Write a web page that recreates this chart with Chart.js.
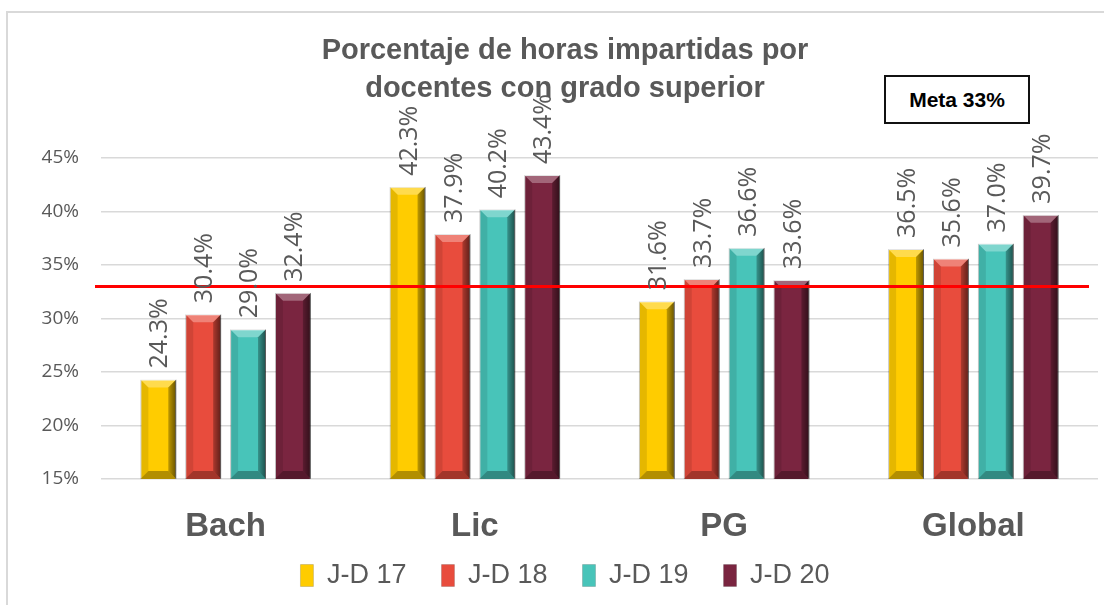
<!DOCTYPE html>
<html lang="es">
<head>
  <meta charset="UTF-8">
  <title>Porcentaje de horas impartidas por docentes con grado superior</title>
  <script src="https://cdn.jsdelivr.net/npm/chart.js@4.4.0"></script>
  <style>
    html, body {
      margin: 0;
      padding: 0;
      background: #fff;
      overflow: hidden;
      width: 1104px;
      height: 605px;
    }
    .frame {
      position: absolute;
      left: 6px;
      top: 11px;
      width: 1110px;
      height: 594px;
      border-left: 2px solid #d9d9d9;
      border-top: 2px solid #d9d9d9;
    }
    .frame canvas {
      display: block;
    }
    .meta {
      position: absolute;
      left: 884px;
      top: 75px;
      width: 142px;
      height: 45px;
      border: 2px solid #111;
      background: #fff;
      font-family: 'Liberation Sans', sans-serif;
      font-weight: bold;
      font-size: 21px;
      line-height: 45px;
      text-align: center;
      color: #000;
    }
  </style>
</head>
<body>
  <div class="frame">
    <canvas id="chart" width="1110" height="592"></canvas>
  </div>
  <div class="meta">Meta 33%</div>

  <script>
    const categories = ['Bach', 'Lic', 'PG', 'Global'];
    const seriesNames = ['J-D 17', 'J-D 18', 'J-D 19', 'J-D 20'];
    const jd17 = [24.3, 42.3, 31.6, 36.5];
    const jd18 = [30.4, 37.9, 33.7, 35.6];
    const jd19 = [29.0, 40.2, 36.6, 37.0];
    const jd20 = [32.4, 43.4, 33.6, 39.7];
    const goal = 33;
    const colors = ['#FFCC00', '#E84C3D', '#48C4B9', '#7A2540'];

    const textFont = "'Liberation Sans', sans-serif";
    const labelFont = "'Open Sans', sans-serif";

    // bevel look on every bar, drawn over the bar the library placed
    const bevel = {
      id: 'bevel',
      afterDatasetsDraw(chart) {
        const ctx = chart.ctx, area = chart.chartArea;
        chart.data.datasets.forEach((ds, di) => {
          chart.getDatasetMeta(di).data.forEach(bar => {
            const l = bar.x - bar.width / 2, r = bar.x + bar.width / 2;
            const t = bar.y, b = Math.min(bar.base, area.bottom), e = 8;
            ctx.save();
            ctx.fillStyle = 'rgba(255,255,255,0.3)';
            ctx.beginPath();
            ctx.moveTo(l, t); ctx.lineTo(r, t); ctx.lineTo(r - e, t + e); ctx.lineTo(l + e, t + e);
            ctx.closePath(); ctx.fill();
            ctx.fillStyle = 'rgba(0,0,0,0.1)';
            ctx.beginPath();
            ctx.moveTo(l, t); ctx.lineTo(l + e, t + e); ctx.lineTo(l + e, b - e); ctx.lineTo(l, b);
            ctx.closePath(); ctx.fill();
            const g = ctx.createLinearGradient(r - e, 0, r, 0);
            g.addColorStop(0, 'rgba(0,0,0,0.25)');
            g.addColorStop(1, 'rgba(0,0,0,0.6)');
            ctx.fillStyle = g;
            ctx.beginPath();
            ctx.moveTo(r, t); ctx.lineTo(r, b); ctx.lineTo(r - e, b - e); ctx.lineTo(r - e, t + e);
            ctx.closePath(); ctx.fill();
            ctx.fillStyle = 'rgba(0,0,0,0.3)';
            ctx.beginPath();
            ctx.moveTo(l, b); ctx.lineTo(r, b); ctx.lineTo(r - e, b - e); ctx.lineTo(l + e, b - e);
            ctx.closePath(); ctx.fill();
            ctx.restore();
          });
        });
      }
    };

    // red goal line across the plot
    const goalLine = {
      id: 'goalLine',
      afterDatasetsDraw(chart) {
        const ctx = chart.ctx, area = chart.chartArea;
        const y = chart.scales.y.getPixelForValue(goal);
        ctx.save();
        ctx.strokeStyle = '#FF0000';
        ctx.lineWidth = 3;
        ctx.beginPath();
        ctx.moveTo(area.left - 6, y);
        ctx.lineTo(area.right - 9, y);
        ctx.stroke();
        ctx.restore();
      }
    };

    // vertical value labels above each bar
    const valueLabels = {
      id: 'valueLabels',
      afterDraw(chart) {
        const ctx = chart.ctx;
        ctx.save();
        ctx.font = '25px ' + labelFont;
        ctx.fillStyle = '#595959';
        ctx.textAlign = 'left';
        ctx.textBaseline = 'middle';
        chart.data.datasets.forEach((ds, di) => {
          chart.getDatasetMeta(di).data.forEach((bar, i) => {
            ctx.save();
            ctx.translate(bar.x + 2, bar.y - 11);
            ctx.rotate(-Math.PI / 2);
            ctx.fillText(ds.data[i].toFixed(1) + '%', 0, 0);
            ctx.restore();
          });
        });
        ctx.restore();
      }
    };

    const allSeries = [jd17, jd18, jd19, jd20];

    new Chart(document.getElementById('chart'), {
      type: 'bar',
      data: {
        labels: categories,
        datasets: allSeries.map((values, i) => ({
          label: seriesNames[i],
          data: values,
          backgroundColor: colors[i],
          borderColor: 'rgba(0,0,0,0.15)',
          borderWidth: 1,
          categoryPercentage: 0.72,
          barPercentage: 0.8
        }))
      },
      options: {
        responsive: false,
        animation: false,
        layout: { padding: { left: 24, right: 20, top: 0, bottom: 6 } },
        plugins: {
          title: {
            display: true,
            text: ['Porcentaje de horas impartidas por', 'docentes con grado superior'],
            color: '#595959',
            font: { family: textFont, size: 29, weight: 'bold', lineHeight: 1.31 },
            padding: { top: 19, bottom: 50 }
          },
          legend: {
            position: 'bottom',
            labels: {
              color: '#595959',
              font: { family: textFont, size: 27 },
              boxWidth: 13,
              boxHeight: 22,
              padding: 20,
              // a little extra room between entries, as in the original
              generateLabels(chart) {
                const items = Chart.defaults.plugins.legend.labels.generateLabels(chart);
                items.forEach((it, i) => { if (i < items.length - 1) it.text = it.text + '  '; });
                return items;
              }
            }
          },
          tooltip: { enabled: false }
        },
        scales: {
          x: {
            grid: { display: false },
            border: { display: false },
            ticks: {
              color: '#595959',
              font: { family: textFont, size: 33, weight: 'bold' },
              padding: 20
            },
            afterFit(scale) { scale.height = 63; }
          },
          y: {
            min: 15,
            max: 45,
            ticks: {
              stepSize: 5,
              color: '#595959',
              font: { family: labelFont, size: 19 },
              padding: 22,
              callback: v => v + '%'
            },
            grid: { color: '#d9d9d9', lineWidth: 1.5, drawTicks: false },
            border: { display: false },
            afterFit(scale) { scale.width = 69; }
          }
        }
      },
      plugins: [bevel, goalLine, valueLabels]
    });
  </script>
</body>
</html>
